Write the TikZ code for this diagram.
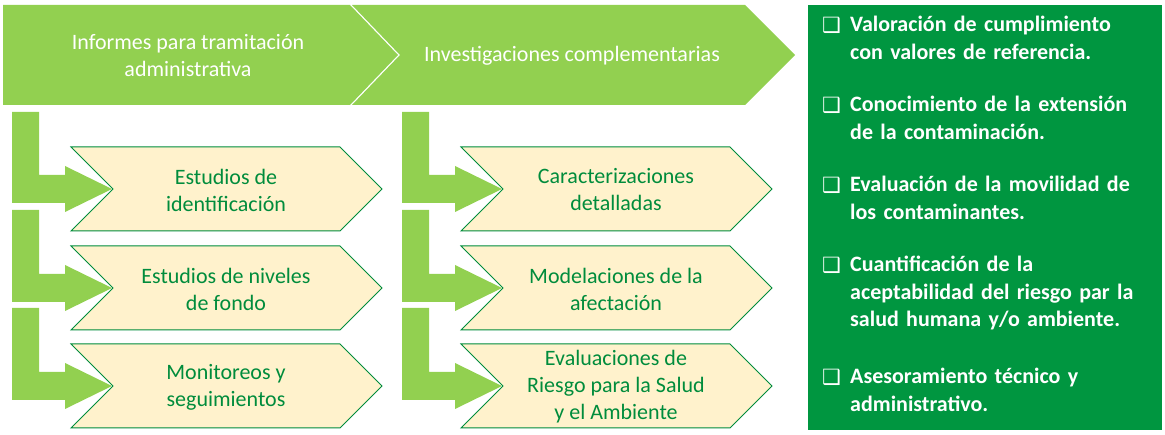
\documentclass[tikz,border=0pt]{standalone}
\usepackage{fontspec}
\setmainfont{Carlito}
\newfontfamily\symfont{DejaVu Sans}
\definecolor{lg}{RGB}{146,208,80}
\definecolor{dg}{RGB}{0,150,64}
\definecolor{tg}{RGB}{0,140,60}
\definecolor{cream}{RGB}{255,242,204}
\begin{document}
\begin{tikzpicture}[x=1pt,y=-1pt,
  ctext/.style={font=\fontsize{22}{27}\selectfont,text=tg,align=center},
  wtext/.style={font=\fontsize{22}{27}\selectfont,text=white,align=center},
  itemtext/.style={font=\bfseries\fontsize{22}{27.5}\selectfont,text=white,align=left,anchor=north west,inner sep=0pt,text width=310pt},
  chev/.style={fill=cream,draw=tg,line width=1pt},
  larr/.style={fill=lg}]
\useasboundingbox (0,0) rectangle (1165,435);
% top chevrons
\fill[lg] (3,5)--(350,5)--(398,55)--(350,105)--(3,105)--cycle;
\fill[lg] (352,5)--(745,5)--(795,55)--(745,105)--(352,105)--(400,55)--cycle;
\node[wtext] (t1) at (188,56) {Informes para tramitación\\administrativa};
\node[wtext] (t2) at (572,56) {Investigaciones complementarias};
% right box
\fill[dg] (808,5) rectangle (1162,430);
% L arrows and chevrons
\foreach \dx in {0,390}{
 \foreach \ty/\my in {112/189,210/288,308/386}{
  \fill[larr] (12+\dx,\ty)--(39+\dx,\ty)--(39+\dx,\my-14)--(65+\dx,\my-14)--(65+\dx,\my-23)
     --(112+\dx,\my)--(65+\dx,\my+23)--(65+\dx,\my+14)--(12+\dx,\my+14)--cycle;
  \draw[chev] (71+\dx,\my-42)--(340+\dx,\my-42)--(382+\dx,\my)--(340+\dx,\my+42)--(71+\dx,\my+42)--(113+\dx,\my)--cycle;
 }
}
\node[ctext] (a1) at (226,190) {Estudios de\\identificación};
\node[ctext] (a2) at (226,289) {Estudios de niveles\\de fondo};
\node[ctext] (a3) at (226,387) {Monitoreos y\\seguimientos};
\node[ctext] (b1) at (616,190) {Caracterizaciones\\detalladas};
\node[ctext] (b2) at (616,289) {Modelaciones de la\\afectación};
\node[ctext] (b3) at (616,387) {Evaluaciones de\\Riesgo para la Salud\\y el Ambiente};
% items
\foreach \y/\txt [count=\i] in {16/{Valoración de cumplimiento\\con valores de referencia.},
  96/{Conocimiento de la extensión\\de la contaminación.},
  176/{Evaluación de la movilidad de\\los contaminantes.},
  256/{Cuantificación de la\\aceptabilidad del riesgo par la\\salud humana y/o ambiente.},
  368/{Asesoramiento técnico y\\administrativo.}}{
  \node[itemtext] (i\i) at (850,\y) {\txt};
  \node[font=\symfont\fontsize{21}{21}\selectfont,text=white,inner sep=0pt,anchor=north west] (c\i) at (822,\y+1) {❑};
}
\end{tikzpicture}
\end{document}
